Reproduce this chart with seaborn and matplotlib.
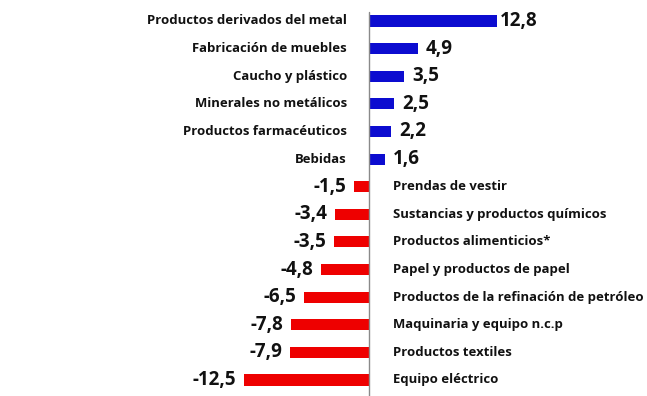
import pandas as pd
import seaborn as sns
import matplotlib.pyplot as plt

# data
sectores = ['Productos derivados del metal', 'Fabricación de muebles', 'Caucho y plástico',
            'Minerales no metálicos', 'Productos farmacéuticos', 'Bebidas',
            'Prendas de vestir', 'Sustancias y productos químicos', 'Productos alimenticios*',
            'Papel y productos de papel', 'Productos de la refinación de petróleo',
            'Maquinaria y equipo n.c.p', 'Productos textiles', 'Equipo eléctrico']
variacion = [12.8, 4.9, 3.5, 2.5, 2.2, 1.6, -1.5, -3.4, -3.5, -4.8, -6.5, -7.8, -7.9, -12.5]

df = pd.DataFrame({'sector': sectores, 'valor': variacion})
df['signo'] = ['pos' if v > 0 else 'neg' for v in df['valor']]

sns.set_style("white")
plt.rcParams['font.family'] = ['Open Sans', 'DejaVu Sans']

fig = plt.figure(figsize=(6.47, 3.96), dpi=100)
ax = fig.add_axes([0, 0, 1, 1])

sns.barplot(data=df, x='valor', y='sector', hue='signo', order=sectores,
            palette={'pos': '#0c0cd0', 'neg': '#ee0000'}, width=0.4, saturation=1,
            dodge=False, legend=False, ax=ax, edgecolor='none')

ax.set_xlim(-36.9, 27.8)
ax.set_ylim(13.58, -0.76)
ax.axvline(0, ymin=0, ymax=0.97, color='#8a8a8a', lw=1)

for i, (name, v) in enumerate(zip(sectores, variacion)):
    txt = f'{v:.1f}'.replace('.', ',')
    if v > 0:
        ax.text(-2.2, i, name, ha='right', va='center', fontsize=9.45, fontweight='bold', color='#111111')
        ax.text(v + (0.3 if v > 10 else 0.8), i, txt, ha='left', va='center',
                fontsize=13.5, fontweight='bold', color='#111111')
    else:
        ax.text(2.4, i, name, ha='left', va='center', fontsize=9.45, fontweight='bold', color='#111111')
        ax.text(v - 0.8, i, txt, ha='right', va='center',
                fontsize=13.5, fontweight='bold', color='#111111')

ax.set_xlabel('')
ax.set_ylabel('')
ax.set_xticks([])
ax.set_yticks([])
for s in ax.spines.values():
    s.set_visible(False)

plt.savefig('out.png', dpi=100)
